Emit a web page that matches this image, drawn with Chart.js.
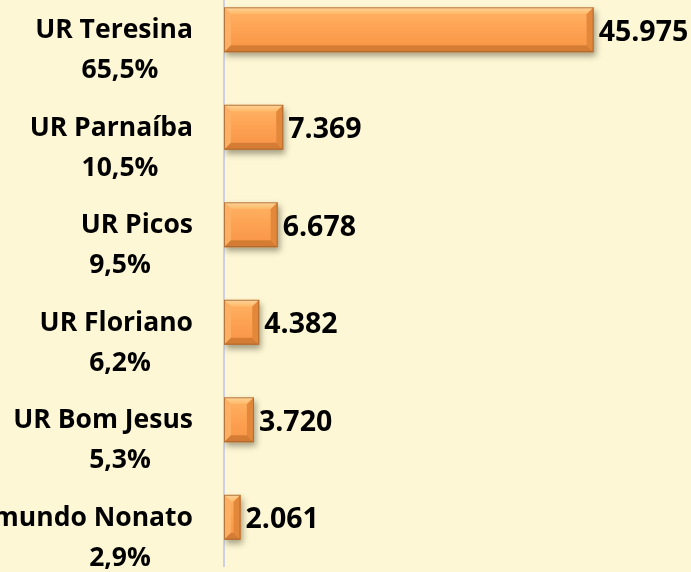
<!DOCTYPE html>
<html>
<head>
<meta charset="utf-8">
<script src="https://cdn.jsdelivr.net/npm/chart.js@4.4.1/dist/chart.umd.min.js"></script>
<style>
  html, body { margin: 0; padding: 0; background: #FDF7D5; overflow: hidden; }
  #wrap { width: 691px; height: 572px; position: relative; overflow: hidden; }
  #c { position: absolute; left: 0; top: -19px; }
</style>
</head>
<body>
<div id="wrap"><canvas id="c" width="691" height="592"></canvas></div>
<script>
const categories = ["UR Teresina", "UR Parnaíba", "UR Picos", "UR Floriano", "UR Bom Jesus", "UR Raimundo Nonato"];
const values = [45975, 7369, 6678, 4382, 3720, 2061];
const valueLabels = ["45.975", "7.369", "6.678", "4.382", "3.720", "2.061"];
const percentLabels = ["65,5%", "10,5%", "9,5%", "6,2%", "5,3%", "2,9%"];

const FONT = "'Open Sans', 'Noto Sans', sans-serif";

const bgPlugin = {
  id: 'bg',
  beforeDraw(chart) {
    const ctx = chart.ctx;
    ctx.save();
    ctx.fillStyle = '#FDF7D5';
    ctx.fillRect(0, 0, chart.width, chart.height);
    ctx.restore();
  }
};

const shadowPlugin = {
  id: 'barShadow',
  beforeDatasetDraw(chart) {
    const ctx = chart.ctx;
    ctx.save();
    ctx.shadowColor = 'rgba(60,50,30,0.45)';
    ctx.shadowBlur = 6;
    ctx.shadowOffsetX = 2;
    ctx.shadowOffsetY = 4;
  },
  afterDatasetDraw(chart) {
    chart.ctx.restore();
  }
};

const bevelPlugin = {
  id: 'bevel',
  afterDatasetsDraw(chart) {
    const ctx = chart.ctx;
    const meta = chart.getDatasetMeta(0);
    ctx.save();
    meta.data.forEach((el) => {
      const p = el.getProps(['x', 'y', 'base', 'height'], true);
      const l = Math.min(p.base, p.x), r = Math.max(p.base, p.x);
      const t = p.y - p.height / 2, b = p.y + p.height / 2;
      const bv = Math.min(7, (r - l) / 2, p.height / 2);
      const g = ctx.createLinearGradient(0, t, 0, b);
      g.addColorStop(0, '#FFB466');
      g.addColorStop(0.5, '#FDA152');
      g.addColorStop(1, '#F89446');
      ctx.fillStyle = g;
      ctx.fillRect(l + bv, t + bv, r - l - 2 * bv, b - t - 2 * bv);
      const gt = ctx.createLinearGradient(0, t, 0, t + bv);
      gt.addColorStop(0, '#FFD49A');
      gt.addColorStop(1, '#FFB865');
      ctx.fillStyle = gt;
      ctx.beginPath();
      ctx.moveTo(l, t); ctx.lineTo(r, t); ctx.lineTo(r - bv, t + bv); ctx.lineTo(l + bv, t + bv); ctx.closePath();
      ctx.fill();
      ctx.fillStyle = '#FDB064';
      ctx.beginPath();
      ctx.moveTo(l, t); ctx.lineTo(l + bv, t + bv); ctx.lineTo(l + bv, b - bv); ctx.lineTo(l, b); ctx.closePath();
      ctx.fill();
      ctx.fillStyle = '#E3883A';
      ctx.beginPath();
      ctx.moveTo(r, t); ctx.lineTo(r, b); ctx.lineTo(r - bv, b - bv); ctx.lineTo(r - bv, t + bv); ctx.closePath();
      ctx.fill();
      ctx.fillStyle = '#D47C33';
      ctx.beginPath();
      ctx.moveTo(l, b); ctx.lineTo(l + bv, b - bv); ctx.lineTo(r - bv, b - bv); ctx.lineTo(r, b); ctx.closePath();
      ctx.fill();
      ctx.strokeStyle = 'rgba(150,95,45,0.7)';
      ctx.lineWidth = 1;
      ctx.strokeRect(l + 0.5, t + 0.5, r - l - 1, b - t - 1);
    });
    ctx.restore();
  }
};

const labelPlugin = {
  id: 'labels',
  afterDraw(chart) {
    const ctx = chart.ctx;
    const meta = chart.getDatasetMeta(0);
    const yScale = chart.scales.y;
    ctx.save();
    ctx.fillStyle = '#000';
    ctx.textBaseline = 'middle';
    ctx.font = "bold 28.5px " + FONT;
    ctx.textAlign = 'left';
    meta.data.forEach((el, i) => {
      const p = el.getProps(['x', 'y'], true);
      ctx.fillText(valueLabels[i], p.x + 5, p.y + 3);
    });
    const left = chart.chartArea.left;
    categories.forEach((name, i) => {
      const y = yScale.getPixelForValue(i);
      ctx.font = "bold 26.5px " + FONT;
      ctx.textAlign = 'right';
      ctx.fillText(name, left - 31, y + 1);
      ctx.textAlign = 'center';
      ctx.fillText(percentLabels[i], left - 104, y + 41);
    });
    ctx.restore();
  }
};

new Chart(document.getElementById('c'), {
  type: 'bar',
  data: {
    labels: categories,
    datasets: [{
      data: values,
      backgroundColor: '#FDA152',
      borderWidth: 0,
      categoryPercentage: 1.0,
      barPercentage: 0.46
    }]
  },
  options: {
    indexAxis: 'y',
    responsive: false,
    animation: false,
    layout: { padding: { left: 216, right: 65, top: 0, bottom: 7 } },
    plugins: { legend: { display: false }, tooltip: { enabled: false } },
    scales: {
      x: { display: false, min: 0, max: 50000 },
      y: {
        display: true,
        ticks: { display: false },
        grid: { display: false },
        border: { display: true, color: '#CDD0E2', width: 2 }
      }
    }
  },
  plugins: [bgPlugin, shadowPlugin, bevelPlugin, labelPlugin]
});
</script>
</body>
</html>
